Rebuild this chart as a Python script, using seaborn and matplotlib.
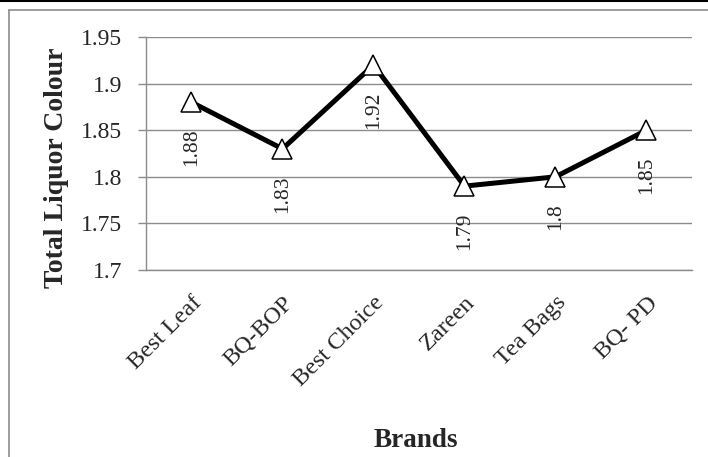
import matplotlib
matplotlib.use("Agg")
import matplotlib.pyplot as plt
from matplotlib.lines import Line2D
import seaborn as sns

# values
brands = ["Best Leaf", "BQ-BOP", "Best Choice", "Zareen", "Tea Bags", "BQ- PD"]
liquor_colour = [1.88, 1.83, 1.92, 1.79, 1.80, 1.85]
y_ticks = [1.7, 1.75, 1.8, 1.85, 1.9, 1.95]
y_tick_labels = ["1.7", "1.75", "1.8", "1.85", "1.9", "1.95"]

sns.set_style("white")
plt.rcParams["font.family"] = ["Liberation Serif", "DejaVu Serif"]

fig = plt.figure(figsize=(7.08, 4.57), dpi=100)
ax = fig.add_axes([0.2062, 0.4092, 0.7712, 0.5098])

sns.lineplot(x=brands, y=liquor_colour, sort=False, ax=ax, color="black",
             linewidth=3.6, marker="^", markersize=14, markerfacecolor="white",
             markeredgecolor="black", markeredgewidth=1.1, zorder=3)

for i, v in enumerate(liquor_colour):
    ax.annotate(f"{v:g}", (i, v), xytext=(0, -19), textcoords="offset points",
                rotation=90, ha="center", va="top", fontsize=15.5)

ax.set_xlim(-0.5, len(brands) - 0.5)
ax.set_ylim(1.7, 1.95)
ax.set_yticks(y_ticks)
ax.set_yticklabels(y_tick_labels)
ax.yaxis.grid(True, color="#8c8c8c", linewidth=1.0)
ax.xaxis.grid(False)
ax.set_axisbelow(True)

for side in ["top", "right"]:
    ax.spines[side].set_visible(False)
for side in ["left", "bottom"]:
    ax.spines[side].set_color("#8c8c8c")
    ax.spines[side].set_linewidth(1.0)

ax.tick_params(axis="y", left=True, length=6, width=1.0, color="#8c8c8c",
               pad=11, labelsize=17)
ax.tick_params(axis="x", bottom=False, length=0, pad=16, labelsize=17.5)
plt.setp(ax.get_xticklabels(), rotation=45, ha="right", va="top",
         rotation_mode="anchor")

ax.set_ylabel("Total Liquor Colour", fontsize=20, fontweight="bold", va="center")
ax.yaxis.set_label_coords(-0.163, 0.438)
ax.set_xlabel("Brands", fontsize=19.5, fontweight="bold", va="center")
ax.xaxis.set_label_coords(0.495, -0.73)

# chart frame as seen in the reference
W, H = 708, 457
fig.add_artist(Line2D([0, 1], [1 - 0.5 / H, 1 - 0.5 / H], color="black", linewidth=1.5))
fig.add_artist(Line2D([9 / W, 1], [1 - 10 / H, 1 - 10 / H], color="#8c8c8c", linewidth=1.2))
fig.add_artist(Line2D([9 / W, 9 / W], [0, 1 - 10 / H], color="#8c8c8c", linewidth=1.2))

fig.savefig("out.png", dpi=100)
